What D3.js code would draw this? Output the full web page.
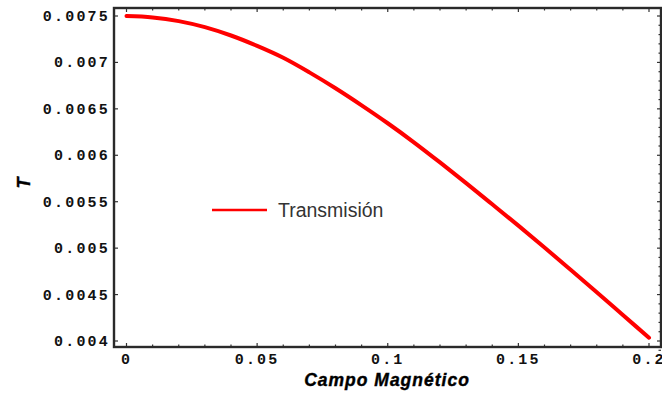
<!DOCTYPE html>
<html>
<head>
<meta charset="utf-8">
<script src="https://cdn.jsdelivr.net/npm/d3@7"></script>
<style>
  html, body { margin: 0; padding: 0; background: #fff; }
  svg { display: block; }
</style>
</head>
<body>
<svg id="chart" width="662" height="396"></svg>
<script>
// Transmission versus magnetic field
const campo = [0, 0.01, 0.02, 0.03, 0.04, 0.05, 0.06, 0.07, 0.08, 0.09, 0.10,
               0.11, 0.12, 0.13, 0.14, 0.15, 0.16, 0.17, 0.18, 0.19, 0.20];
const transmision = [0.007500, 0.007485, 0.007445, 0.007380, 0.007290, 0.007178,
                     0.007050, 0.006893, 0.006722, 0.006538, 0.006345, 0.006140,
                     0.005923, 0.005700, 0.005472, 0.005242, 0.005007, 0.004767,
                     0.004525, 0.004280, 0.004035];
const xTicks = [0, 0.05, 0.1, 0.15, 0.2];
const xTickLabels = ["0", "0.05", "0.1", "0.15", "0.2"];
const yTicks = [0.004, 0.0045, 0.005, 0.0055, 0.006, 0.0065, 0.007, 0.0075];
const yTickLabels = ["0.004", "0.0045", "0.005", "0.0055", "0.006", "0.0065", "0.007", "0.0075"];
const xMinor = d3.range(0, 21).map(i => i / 100);
const yMinor = d3.range(39, 76).map(i => i / 10000);
const seriesName = "Transmisión";
const xTitle = "Campo Magnético";
const yTitle = "T";

const frame = { left: 114, top: 8, right: 661, bottom: 347 };

const x = d3.scaleLinear().domain([0, 0.2]).range([126.5, 649]);
const y = d3.scaleLinear().domain([0.004, 0.0075]).range([341, 16]);

const svg = d3.select("#chart");

// curve
const line = d3.line()
  .x((d, i) => x(campo[i]))
  .y(d => y(d))
  .curve(d3.curveMonotoneX);

svg.append("path")
  .attr("d", line(transmision))
  .attr("fill", "none")
  .attr("stroke", "#ff0000")
  .attr("stroke-width", 4)
  .attr("stroke-linecap", "round");

// frame ticks (inward)
const tickColor = "#333";
const ticks = svg.append("g").attr("stroke", tickColor);
xMinor.forEach(v => {
  const major = xTicks.some(t => Math.abs(t - v) < 1e-9);
  const len = major ? 4 : 2.5;
  ticks.append("line").attr("x1", x(v)).attr("x2", x(v))
    .attr("y1", frame.bottom).attr("y2", frame.bottom - len).attr("stroke-width", 1.2);
  ticks.append("line").attr("x1", x(v)).attr("x2", x(v))
    .attr("y1", frame.top).attr("y2", frame.top + len).attr("stroke-width", 1.2);
});
yMinor.forEach(v => {
  const major = yTicks.some(t => Math.abs(t - v) < 1e-9);
  const len = major ? 4 : 2.5;
  if (major) {
    ticks.append("line").attr("x1", frame.left).attr("x2", frame.left + len)
      .attr("y1", y(v)).attr("y2", y(v)).attr("stroke-width", 1.2);
  }
  ticks.append("line").attr("x1", frame.right).attr("x2", frame.right - len)
    .attr("y1", y(v)).attr("y2", y(v)).attr("stroke-width", 1.2);
});

// frame
svg.append("rect")
  .attr("x", frame.left).attr("y", frame.top)
  .attr("width", frame.right - frame.left).attr("height", frame.bottom - frame.top)
  .attr("fill", "none").attr("stroke", "#2a2a2a").attr("stroke-width", 2.4);

// tick labels
const tickFont = "'Liberation Mono', 'DejaVu Sans Mono', monospace";
svg.append("g").selectAll("text").data(xTicks).join("text")
  .attr("x", d => x(d)).attr("y", 364)
  .attr("text-anchor", "middle")
  .attr("font-family", tickFont).attr("font-weight", "bold").attr("font-size", 15)
  .attr("letter-spacing", 2.2)
  .attr("fill", "#111")
  .text((d, i) => xTickLabels[i]);

svg.append("g").selectAll("text").data(yTicks).join("text")
  .attr("x", 110).attr("y", d => y(d) + 5)
  .attr("text-anchor", "end")
  .attr("font-family", tickFont).attr("font-weight", "bold").attr("font-size", 15)
  .attr("letter-spacing", 2.2)
  .attr("fill", "#111")
  .text((d, i) => yTickLabels[i]);

// axis titles
svg.append("text")
  .attr("x", 387).attr("y", 386)
  .attr("text-anchor", "middle")
  .attr("font-family", "'Liberation Sans', Arial, sans-serif")
  .attr("font-weight", "bold").attr("font-style", "italic").attr("font-size", 17.5)
  .attr("letter-spacing", 1)
  .attr("stroke", "#000").attr("stroke-width", 0.4)
  .attr("fill", "#000")
  .text(xTitle);

svg.append("text")
  .attr("transform", "translate(30,183) rotate(-90)")
  .attr("text-anchor", "middle")
  .attr("font-family", "'Liberation Sans', Arial, sans-serif")
  .attr("font-weight", "bold").attr("font-style", "italic").attr("font-size", 18)
  .attr("stroke", "#000").attr("stroke-width", 0.4)
  .attr("fill", "#000")
  .text(yTitle);

// legend
const legend = svg.append("g");
legend.append("line")
  .attr("x1", 212).attr("x2", 267).attr("y1", 210).attr("y2", 210)
  .attr("stroke", "#ff0000").attr("stroke-width", 2.5);
legend.append("text")
  .attr("x", 278).attr("y", 217)
  .attr("font-family", "'Liberation Sans', Arial, sans-serif")
  .attr("font-size", 19.5)
  .attr("fill", "#333")
  .text(seriesName);
</script>
</body>
</html>
